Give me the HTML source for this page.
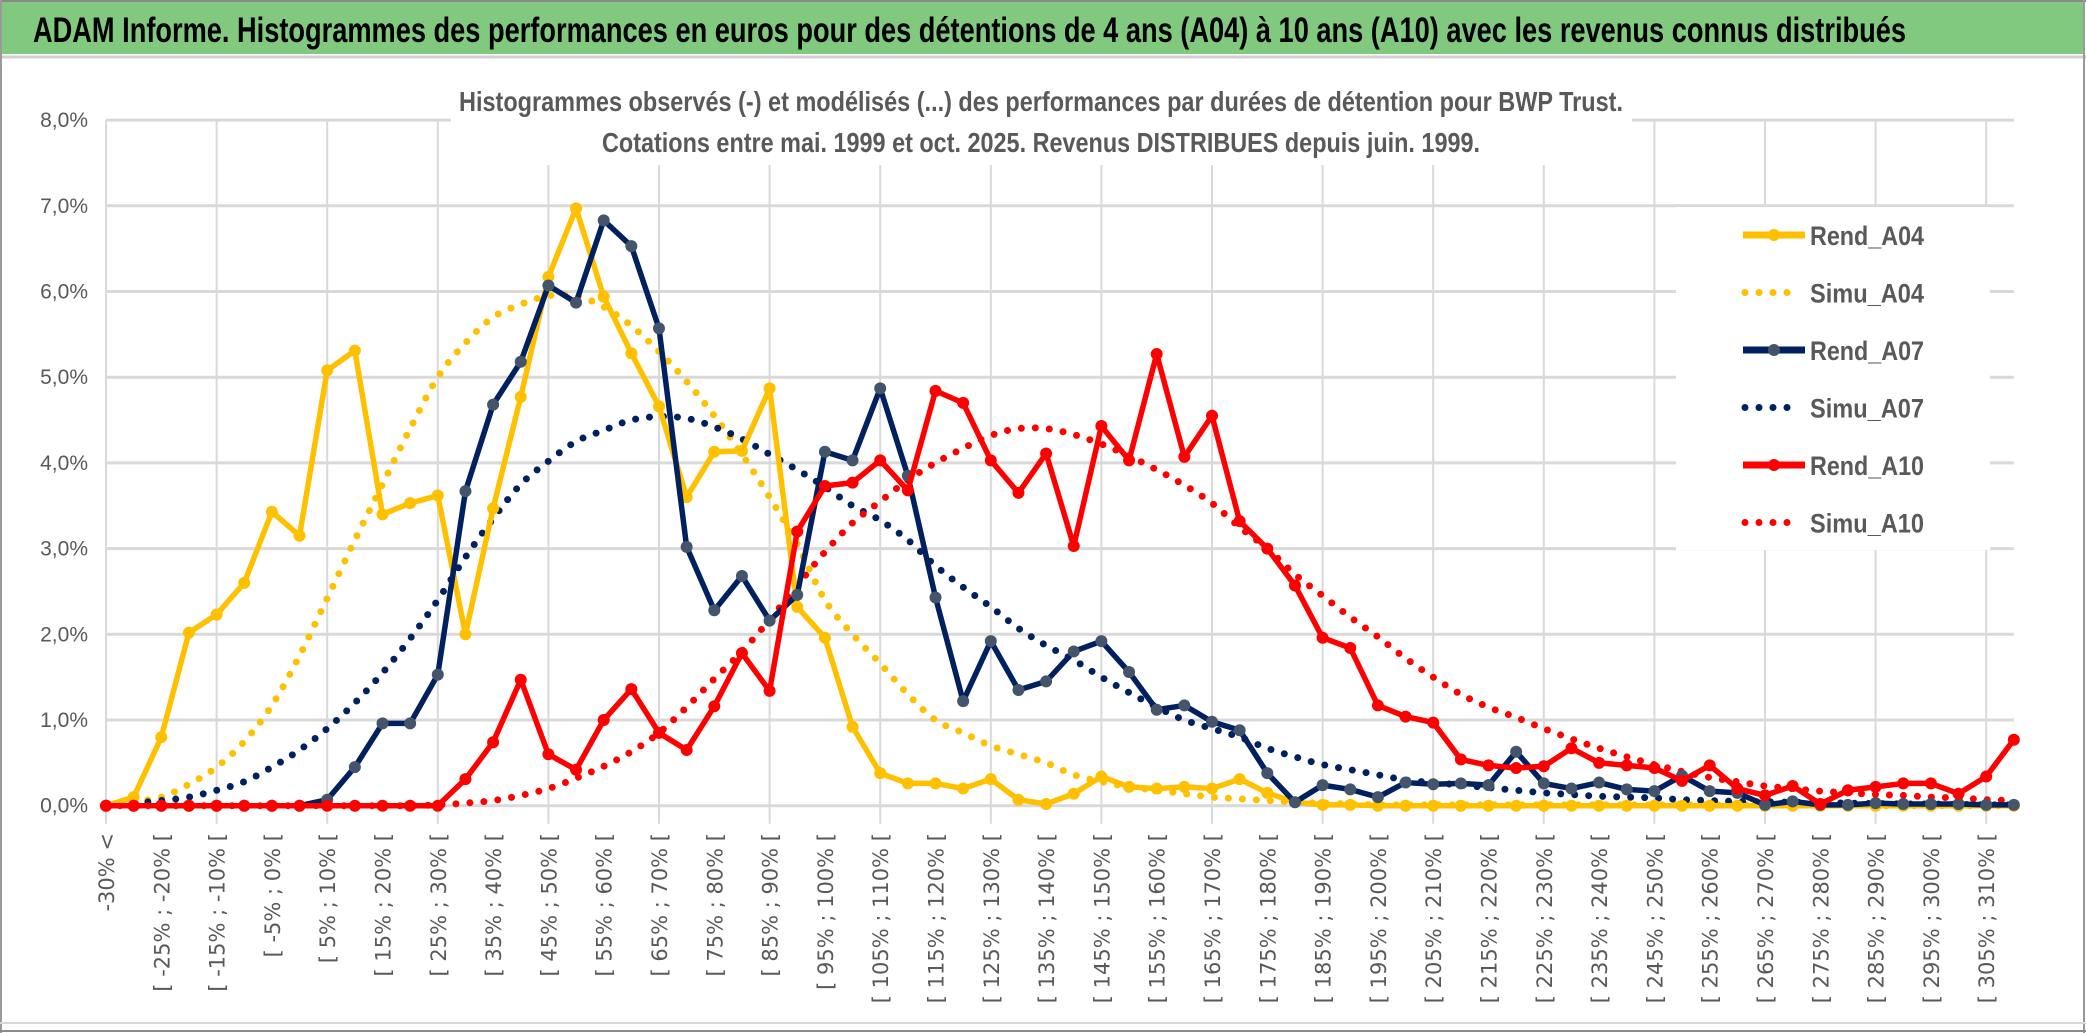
<!DOCTYPE html>
<html><head><meta charset="utf-8"><style>
html,body{margin:0;padding:0;background:#fff;}
svg{display:block;}
</style></head><body>
<svg id="chart" width="2086" height="1033" viewBox="0 0 2086 1033" xmlns="http://www.w3.org/2000/svg">
<rect x="0" y="0" width="2086" height="1033" fill="#fff"/>
<rect x="1" y="1" width="2084" height="53" fill="#80C97F"/>
<line x1="0" y1="1" x2="2086" y2="1" stroke="#8a8a8a" stroke-width="2"/>
<line x1="0" y1="57" x2="2086" y2="57" stroke="#d0d0d0" stroke-width="3"/>
<line x1="1" y1="0" x2="1" y2="1033" stroke="#9a9a9a" stroke-width="2"/>
<line x1="2084" y1="0" x2="2084" y2="1033" stroke="#9a9a9a" stroke-width="2"/>
<line x1="0" y1="1023" x2="2086" y2="1023" stroke="#d8d8d8" stroke-width="2"/>
<line x1="0" y1="1031" x2="2086" y2="1031" stroke="#8a8a8a" stroke-width="2"/>
<text x="33" y="42" font-family="'Liberation Sans Narrow','Liberation Sans',sans-serif" font-weight="bold" font-size="35" fill="#000" textLength="1873" lengthAdjust="spacingAndGlyphs">ADAM Informe. Histogrammes des performances en euros pour des détentions de 4 ans (A04) à 10 ans (A10) avec les revenus connus distribués</text>
<g id="grid"></g>
<rect x="451" y="62" width="1181" height="103" fill="#fff"/>
<text x="459" y="111" font-family="'Liberation Sans Narrow','Liberation Sans',sans-serif" font-weight="bold" font-size="28" fill="#595959" textLength="1164" lengthAdjust="spacingAndGlyphs">Histogrammes observés (-) et modélisés (...) des performances par durées de détention pour BWP Trust.</text>
<text x="602" y="152" font-family="'Liberation Sans Narrow','Liberation Sans',sans-serif" font-weight="bold" font-size="28" fill="#595959" textLength="878" lengthAdjust="spacingAndGlyphs">Cotations entre mai. 1999 et oct. 2025. Revenus DISTRIBUES depuis juin. 1999.</text>
<g id="yaxis"></g>
<g id="xaxis"></g>
<g id="series"></g>
<rect x="1676" y="207" width="314" height="343" fill="#fff"/>
<g id="legend"></g>
</svg>
<script>
const rendA04 = [0,0.1,0.8,2.02,2.23,2.6,3.43,3.15,5.08,5.31,3.4,3.53,3.62,2.0,3.47,4.77,6.17,6.97,5.94,5.28,4.66,3.6,4.13,4.14,4.87,2.32,1.96,0.92,0.38,0.26,0.26,0.2,0.31,0.07,0.02,0.14,0.34,0.22,0.2,0.22,0.2,0.31,0.15,0.04,0.01,0.01,0,0,0,0,0,0,0,0,0,0,0,0,0,0,0,0,0,0,0,0,0,0,0,0];
const simuA04 = [0.02,0.05,0.1,0.25,0.45,0.75,1.17,1.75,2.42,3.1,3.75,4.4,5.0,5.4,5.7,5.85,5.95,5.95,5.82,5.6,5.3,4.95,4.55,4.1,3.6,3.05,2.4,2.0,1.66,1.3,1.0,0.85,0.7,0.6,0.5,0.36,0.28,0.22,0.18,0.14,0.1,0.08,0.06,0.04,0.03,0.02,0.01,0.01,0.01,0.01,0.01,0.01,0.01,0.01,0.01,0.01,0.01,0.01,0.01,0.01,0.01,0.01,0.01,0.01,0,0,0,0,0,0];
const rendA07 = [0,0,0,0,0,0,0,0,0.07,0.45,0.96,0.96,1.53,3.67,4.68,5.18,6.07,5.87,6.83,6.53,5.57,3.02,2.28,2.68,2.16,2.46,4.13,4.03,4.87,3.85,2.43,1.22,1.92,1.35,1.45,1.8,1.92,1.56,1.12,1.17,0.98,0.88,0.38,0.04,0.24,0.19,0.1,0.27,0.25,0.26,0.24,0.63,0.26,0.2,0.27,0.19,0.17,0.35,0.17,0.15,0.01,0.05,0.01,0.01,0.03,0.02,0.02,0.02,0.01,0.01];
const simuA07 = [0.01,0.03,0.06,0.1,0.18,0.28,0.45,0.65,0.9,1.2,1.55,1.95,2.4,2.9,3.35,3.75,4.02,4.25,4.38,4.5,4.54,4.52,4.42,4.28,4.1,3.92,3.72,3.5,3.33,3.1,2.8,2.55,2.32,2.07,1.87,1.7,1.5,1.32,1.15,1.0,0.9,0.8,0.67,0.57,0.48,0.42,0.36,0.3,0.27,0.24,0.21,0.18,0.15,0.13,0.11,0.1,0.09,0.07,0.06,0.05,0.045,0.04,0.035,0.03,0.025,0.02,0.02,0.015,0.01,0.01];
const rendA10 = [0,0,0,0,0,0,0,0,0,0,0,0,0,0.31,0.74,1.47,0.6,0.42,1.0,1.36,0.85,0.65,1.16,1.78,1.34,3.2,3.73,3.77,4.03,3.68,4.84,4.7,4.03,3.65,4.11,3.03,4.43,4.03,5.27,4.07,4.55,3.32,3.0,2.57,1.96,1.84,1.17,1.04,0.97,0.54,0.47,0.44,0.46,0.67,0.5,0.47,0.44,0.29,0.47,0.2,0.12,0.23,0.02,0.18,0.22,0.26,0.26,0.14,0.34,0.77];
const simuA10 = [0,0,0,0,0,0,0,0,0,0,0,0,0.01,0.03,0.06,0.12,0.2,0.32,0.46,0.63,0.85,1.15,1.48,1.8,2.17,2.57,2.96,3.3,3.55,3.8,4.0,4.17,4.32,4.4,4.4,4.33,4.22,4.08,3.92,3.74,3.53,3.25,3.0,2.7,2.45,2.2,1.97,1.72,1.5,1.3,1.15,1.03,0.9,0.78,0.67,0.57,0.48,0.4,0.33,0.28,0.23,0.2,0.17,0.15,0.13,0.12,0.1,0.09,0.07,0.06];
const yTicks = [0,1,2,3,4,5,6,7,8];
const yTickLabels = ["0,0%","1,0%","2,0%","3,0%","4,0%","5,0%","6,0%","7,0%","8,0%"];
const seriesNames = ["Rend_A04","Simu_A04","Rend_A07","Simu_A07","Rend_A10","Simu_A10"];

const NS = "http://www.w3.org/2000/svg";
const X0 = 106, DX = 27.65, Y0 = 805.7, DY = 85.7;
function xS(i){ return X0 + i*DX; }
function yS(v){ return Y0 - v*DY; }
function mk(tag, attrs, parent){ const e=document.createElementNS(NS,tag); for(const k in attrs) e.setAttribute(k,attrs[k]); parent.appendChild(e); return e; }

function catLabel(i){
  if(i===0) return "-30% <";
  const lo = -35+5*i, hi = -30+5*i;
  return "[ "+lo+"% ; "+hi+"% [";
}
const nCat = rendA04.length;

const grid = document.getElementById('grid');
yTicks.forEach(t=>{
  const l = mk('line',{x1:X0,x2:xS(nCat-1),y1:yS(t),y2:yS(t),stroke:'#d9d9d9','stroke-width':3},grid);
  
  
});
for(let i=0;i<nCat;i+=4){
  const l = mk('line',{x1:xS(i),x2:xS(i),y1:yS(8),y2:yS(0)+18,stroke:'#d9d9d9','stroke-width':2},grid);
  
  
}
const ya = document.getElementById('yaxis');
yTicks.forEach((t,k)=>{
  const tx = mk('text',{x:88,y:yS(t)+7,'text-anchor':'end','font-family':"'Liberation Sans Narrow','Liberation Sans',sans-serif",'font-size':21,fill:'#595959'},ya);
  tx.textContent = yTickLabels[k];
  
  
});
const xa = document.getElementById('xaxis');
for(let i=0;i<nCat;i+=2){
  const x = xS(i)+8, y = 833;
  const tx = mk('text',{x:x,y:y,'text-anchor':'end','font-family':"'DejaVu Sans',sans-serif",'font-size':21,fill:'#595959',transform:'rotate(-90 '+x+' '+y+')'},xa);
  tx.textContent = catLabel(i);
  
  
}
function smoothPath(vals){
  const p = vals.map((v,i)=>[xS(i),yS(v)]);
  let d = "M"+p[0][0]+","+p[0][1];
  for(let i=0;i<p.length-1;i++){
    const p0=p[Math.max(0,i-1)],p1=p[i],p2=p[i+1],p3=p[Math.min(p.length-1,i+2)];
    const c1=[p1[0]+(p2[0]-p0[0])/6,p1[1]+(p2[1]-p0[1])/6];
    const c2=[p2[0]-(p3[0]-p1[0])/6,p2[1]-(p3[1]-p1[1])/6];
    d+=" C"+c1[0]+","+c1[1]+" "+c2[0]+","+c2[1]+" "+p2[0]+","+p2[1];
  }
  return d;
}
function linePath(vals){ return vals.map((v,i)=>(i?"L":"M")+xS(i)+","+yS(v)).join(" "); }
const sg = document.getElementById('series');
function drawSimu(vals,color,name){
  const p = mk('path',{d:smoothPath(vals),fill:'none',stroke:color,'stroke-width':7,'stroke-linecap':'round','stroke-dasharray':'0 14'},sg);
  
  
}
function drawRend(vals,color,mcolor,name){
  const g = mk('g',{},sg);
  
  
  mk('path',{d:linePath(vals),fill:'none',stroke:color,'stroke-width':5.5,'stroke-linejoin':'round'},g);
  vals.forEach((v,i)=>{
    const c = mk('circle',{cx:xS(i),cy:yS(v),r:6,fill:mcolor},g);
    
    
  });
}
drawSimu(simuA04,'#FFC000','simu-a04-line');
drawSimu(simuA07,'#002060','simu-a07-line');
drawSimu(simuA10,'#FF0000','simu-a10-line');
drawRend(rendA04,'#FFC000','#FFC000','rend-a04-line');
drawRend(rendA07,'#002060','#44546A','rend-a07-line');
drawRend(rendA10,'#FF0000','#FF0000','rend-a10-line');

const lg = document.getElementById('legend');
const legColors = ['#FFC000','#FFC000','#002060','#002060','#FF0000','#FF0000'];
const legMarker = ['#FFC000',null,'#44546A',null,'#FF0000',null];
seriesNames.forEach((n,k)=>{
  const y = 235 + k*57.5;
  const g = mk('g',{},lg);
  
  
  if(legMarker[k]){
    mk('line',{x1:1743,x2:1805,y1:y,y2:y,stroke:legColors[k],'stroke-width':7},g);
    mk('circle',{cx:1774,cy:y,r:6,fill:legMarker[k]},g);
  } else {
    mk('line',{x1:1745,x2:1800,y1:y,y2:y,stroke:legColors[k],'stroke-width':7,'stroke-linecap':'round','stroke-dasharray':'0 14'},g);
  }
  const t = mk('text',{x:1810,y:y+10,'font-family':"'Liberation Sans Narrow','Liberation Sans',sans-serif",'font-weight':'bold','font-size':27,fill:'#595959',textLength:114,lengthAdjust:'spacingAndGlyphs'},g);
  t.textContent = n;
});
</script>
</body></html>
